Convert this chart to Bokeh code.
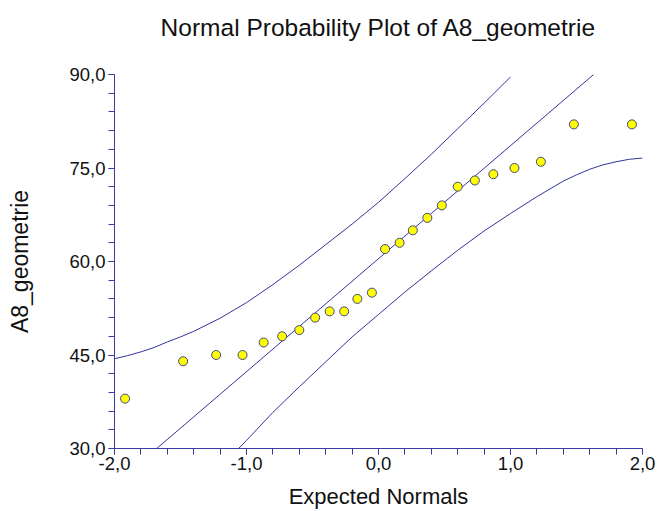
from bokeh.plotting import figure
from bokeh.models import FixedTicker, Range1d, Title
from bokeh.embed import file_html
from bokeh.resources import INLINE

# Data
expected_normals = [-1.92, -1.48, -1.23, -1.03, -0.87, -0.73, -0.60, -0.48, -0.37, -0.26, -0.16, -0.05,
                    0.05, 0.16, 0.26, 0.37, 0.48, 0.60, 0.73, 0.87, 1.03, 1.23, 1.48, 1.92]
a8_geometrie = [38, 44, 45, 45, 47, 48, 49, 51, 52, 52, 54, 55,
                62, 63, 65, 67, 69, 72, 73, 74, 75, 76, 82, 82]

fit_x = [-1.68, 1.63]
fit_y = [30.0, 90.0]

upper_x = [-2.0, -1.9, -1.8, -1.7, -1.6, -1.5, -1.4, -1.2, -1.0, -0.8, -0.6, -0.4, -0.2,
           0.0, 0.2, 0.4, 0.6, 0.8, 1.0]
upper_y = [44.4, 44.9, 45.5, 46.2, 47.1, 47.9, 48.8, 50.9, 53.4, 56.3, 59.4, 62.7, 66.0,
           69.5, 73.3, 77.2, 81.3, 85.4, 89.6]

lower_x = [-1.06, -1.0, -0.8, -0.6, -0.4, -0.2, 0.0, 0.2, 0.4, 0.6, 0.8, 1.0,
           1.2, 1.4, 1.5, 1.6, 1.7, 1.8, 1.9, 2.0]
lower_y = [30.0, 31.3, 35.8, 39.9, 43.9, 47.9, 51.5, 55.1, 58.5, 61.8, 64.9, 67.7,
           70.4, 72.9, 73.9, 74.8, 75.5, 76.0, 76.4, 76.6]

x_ticks = [-2, -1, 0, 1, 2]
x_tick_labels = ["-2,0", "-1,0", "0,0", "1,0", "2,0"]
x_minor = [-2 + 0.2 * i for i in range(21)]
y_ticks = [30, 45, 60, 75, 90]
y_tick_labels = ["30,0", "45,0", "60,0", "75,0", "90,0"]
y_minor = [30 + 3 * i for i in range(21)]

title_text = "Normal Probability Plot of A8_geometrie"

FONT = "Liberation Sans"
AXIS_COLOR = "#3a3aa0"
LINE_COLOR = "#34349c"
TEXT_COLOR = "#111111"

p = figure(width=657, height=511, output_backend="svg", toolbar_location=None,
           x_range=Range1d(-2, 2), y_range=Range1d(30, 90),
           min_border_left=114, min_border_right=15, min_border_top=74, min_border_bottom=62)

p.title.text = title_text
p.title.align = "center"
p.title.text_font = FONT
p.title.text_font_size = "24.5px"
p.title.text_font_style = "normal"
p.title.text_color = TEXT_COLOR
p.title.standoff = 0

# blank spacer between the title and the plot frame
p.add_layout(Title(text=" ", text_font=FONT, text_font_size="24.5px", standoff=5), "above")

p.outline_line_color = None
p.xgrid.visible = False
p.ygrid.visible = False
p.background_fill_color = "white"
p.border_fill_color = "white"

p.xaxis.ticker = FixedTicker(ticks=x_ticks, minor_ticks=x_minor)
p.yaxis.ticker = FixedTicker(ticks=y_ticks, minor_ticks=y_minor)
p.xaxis.major_label_overrides = dict(zip(x_ticks, x_tick_labels))
p.yaxis.major_label_overrides = dict(zip(y_ticks, y_tick_labels))

for ax in (p.xaxis, p.yaxis):
    ax.axis_line_color = AXIS_COLOR
    ax.axis_line_width = 1
    ax.major_tick_line_color = AXIS_COLOR
    ax.minor_tick_line_color = AXIS_COLOR
    ax.major_tick_out = 6
    ax.major_tick_in = 0
    ax.minor_tick_out = 6
    ax.minor_tick_in = 0
    ax.major_label_text_font = FONT
    ax.major_label_text_font_size = "18.5px"
    ax.major_label_text_color = TEXT_COLOR
    ax.axis_label_text_font = FONT
    ax.axis_label_text_font_style = "normal"
    ax.axis_label_text_color = TEXT_COLOR

p.xaxis.axis_label = "Expected Normals"
p.xaxis.axis_label_text_font_size = "22px"
p.xaxis.major_label_standoff = 2
p.xaxis.axis_label_standoff = 11

p.yaxis.axis_label = "A8_geometrie"
p.yaxis.axis_label_text_font_size = "23px"
p.yaxis.major_label_standoff = 3
p.yaxis.axis_label_standoff = 33

p.line(upper_x, upper_y, line_color=LINE_COLOR, line_width=1)
p.line(lower_x, lower_y, line_color=LINE_COLOR, line_width=1)
p.line(fit_x, fit_y, line_color=LINE_COLOR, line_width=1)

p.scatter(expected_normals, a8_geometrie, size=9, fill_color="#ffff00",
          line_color="#45457a", line_width=1)

open("out.html", "w").write(file_html(p, INLINE))
